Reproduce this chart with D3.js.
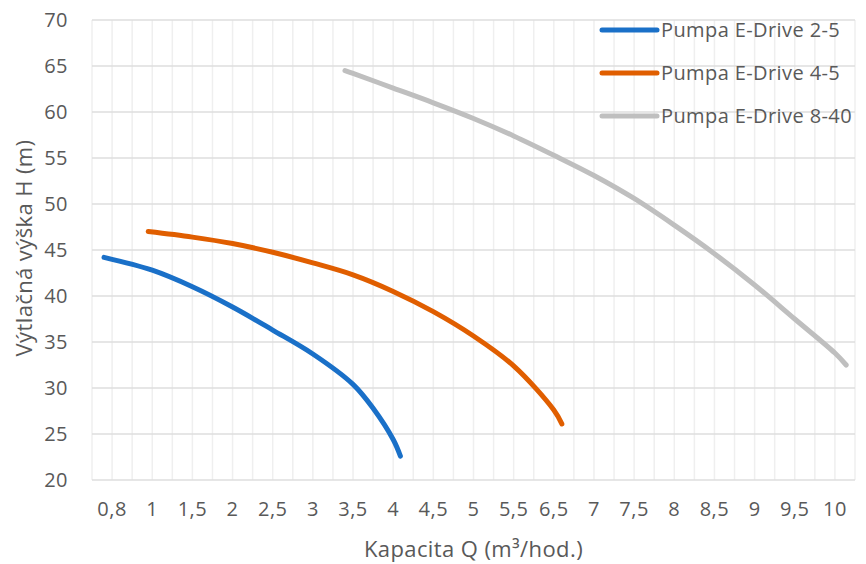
<!DOCTYPE html>
<html>
<head>
<meta charset="utf-8">
<script src="https://cdn.jsdelivr.net/npm/d3@7"></script>
<style>
  body { margin: 0; background: #fff; }
  text { font-family: "Open Sans", sans-serif; fill: #595959; }
</style>
</head>
<body>
<div id="chart"></div>
<script>
// x axis categories (Excel category axis, note: there is no 6)
var categories = [0.8, 1, 1.5, 2, 2.5, 3, 3.5, 4, 4.5, 5, 5.5, 6.5, 7, 7.5, 8, 8.5, 9, 9.5, 10];
var yTicks = [20, 25, 30, 35, 40, 45, 50, 55, 60, 65, 70];

var seriesNames = ["Pumpa E-Drive 2-5", "Pumpa E-Drive 4-5", "Pumpa E-Drive 8-40"];
var seriesColors = ["#1a70c8", "#e05e00", "#bfbfbf"];

// [Q, H]
var pump25 = [[0.76, 44.2], [1, 42.8], [1.5, 41.0], [2, 38.8], [2.5, 36.3], [3, 33.7], [3.5, 30.4], [3.75, 27.8], [4, 24.4], [4.09, 22.6]];
var pump45 = [[0.98, 47.0], [1.5, 46.4], [2, 45.7], [2.5, 44.75], [3, 43.6], [3.5, 42.3], [4, 40.5], [4.5, 38.3], [5, 35.65], [5.5, 32.4], [6.5, 27.6], [6.6, 26.1]];
var pump840 = [[3.4, 64.5], [3.5, 64.2], [4, 62.6], [4.5, 61.0], [5, 59.3], [5.5, 57.4], [6.5, 55.3], [7, 53.1], [7.5, 50.6], [8, 47.7], [8.5, 44.6], [9, 41.2], [9.5, 37.5], [10, 33.8], [10.14, 32.5]];
var seriesData = [pump25, pump45, pump840];

var width = 866, height = 564;
var margin = { top: 20, right: 11, bottom: 84, left: 92 };
var w = width - margin.left - margin.right;
var h = height - margin.top - margin.bottom;

var svg = d3.select("#chart").append("svg")
    .attr("width", width)
    .attr("height", height);

var g = svg.append("g")
    .attr("transform", "translate(" + margin.left + "," + margin.top + ")");

// band scale for the category labels
var xBand = d3.scaleBand()
    .domain(categories)
    .range([0, w]);

// piecewise linear scale: each category value maps to its band centre
var x = d3.scaleLinear()
    .domain(categories)
    .range(categories.map(function(c) { return xBand(c) + xBand.bandwidth() / 2; }));

var y = d3.scaleLinear()
    .domain([20, 70])
    .range([h, 0]);

// vertical gridlines: band edges and band centres
var vLines = [];
categories.forEach(function(c) {
    vLines.push(xBand(c));
    vLines.push(xBand(c) + xBand.bandwidth() / 2);
});
vLines.push(w);

g.selectAll(".vgrid")
    .data(vLines)
    .enter().append("line")
    .attr("class", "vgrid")
    .attr("x1", function(d) { return d; })
    .attr("x2", function(d) { return d; })
    .attr("y1", 0)
    .attr("y2", h)
    .attr("stroke", "#efefef")
    .attr("stroke-width", 1.5);

g.selectAll(".hgrid")
    .data(yTicks)
    .enter().append("line")
    .attr("class", "hgrid")
    .attr("x1", 0)
    .attr("x2", w)
    .attr("y1", function(d) { return y(d); })
    .attr("y2", function(d) { return y(d); })
    .attr("stroke", "#dedede")
    .attr("stroke-width", 1.5);

// y axis labels
var yAxis = g.append("g")
    .call(d3.axisLeft(y).tickValues(yTicks).tickSize(0).tickPadding(24));
yAxis.select(".domain").remove();
yAxis.selectAll("text")
    .style("font-size", "20px")
    .style("letter-spacing", "0.5px")
    .attr("fill", "#595959");

// x axis labels
var xAxis = g.append("g")
    .attr("transform", "translate(0," + h + ")")
    .call(d3.axisBottom(xBand).tickSize(0).tickPadding(22)
        .tickFormat(function(d) { return String(d).replace(".", ","); }));
xAxis.select(".domain").remove();
xAxis.selectAll("text")
    .style("font-size", "20px")
    .style("letter-spacing", "0.5px")
    .attr("fill", "#595959");

// axis titles
svg.append("text")
    .attr("x", margin.left + w / 2)
    .attr("y", 557)
    .attr("text-anchor", "middle")
    .style("font-size", "22px")
    .style("letter-spacing", "0.4px")
    .text("Kapacita Q (m³/hod.)");

svg.append("text")
    .attr("transform", "translate(32,248) rotate(-90)")
    .attr("text-anchor", "middle")
    .style("font-size", "22px")
    .style("letter-spacing", "0.4px")
    .text("Výtlačná výška H (m)");

// curves
var line = d3.line()
    .x(function(d) { return x(d[0]); })
    .y(function(d) { return y(d[1]); })
    .curve(d3.curveCatmullRom.alpha(0.5));

g.selectAll(".curve")
    .data(seriesData)
    .enter().append("path")
    .attr("class", "curve")
    .attr("d", function(d) { return line(d); })
    .attr("fill", "none")
    .attr("stroke", function(d, i) { return seriesColors[i]; })
    .attr("stroke-width", 5)
    .attr("stroke-linecap", "round");

// legend
var legend = svg.selectAll(".legend")
    .data(seriesNames)
    .enter().append("g")
    .attr("class", "legend")
    .attr("transform", function(d, i) { return "translate(602," + (30 + i * 43) + ")"; });

legend.append("line")
    .attr("x1", 0)
    .attr("x2", 55)
    .attr("stroke", function(d, i) { return seriesColors[i]; })
    .attr("stroke-width", 5)
    .attr("stroke-linecap", "round");

legend.append("text")
    .attr("x", 59)
    .attr("dy", "0.35em")
    .style("font-size", "20px")
    .style("letter-spacing", "0.4px")
    .text(function(d) { return d; });
</script>
</body>
</html>
